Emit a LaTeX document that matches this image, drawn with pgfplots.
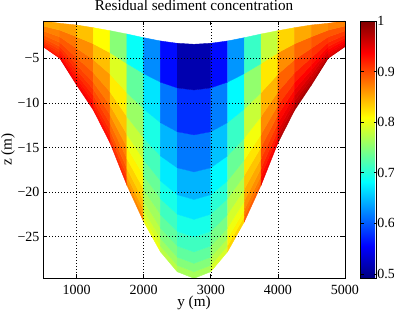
\documentclass[border=0pt]{standalone}
\usepackage{pgfplots}
\pgfplotsset{compat=1.18}
\usepackage{fontspec}
\setmainfont{Liberation Serif}
\begin{document}
\begin{tikzpicture}
\useasboundingbox (0,0) rectangle (394pt,311pt);
\begin{axis}[
  at={(43pt,32.7pt)}, anchor=south west,
  scale only axis, width=302pt, height=257.3pt,
  view={0}{90},
  xmin=500, xmax=5000, ymin=-29.66, ymax=-0.82,
  scaled ticks=false,
  xtick={1000,2000,3000,4000,5000},
  xticklabels={1000,2000,3000,4000,5000},
  ytick={-25,-20,-15,-10,-5},
  yticklabels={−25,−20,−15,−10,−5},
  ztick=\empty,
  grid=major,
  grid style={black, line width=0.5pt, dash pattern=on 0.8pt off 2.2pt},
  tick align=inside, major tick length=4pt,
  tick style={black, line width=0.6pt},
  axis line style={black, line width=0.9pt},
  tick label style={font=\fontsize{14}{16}\selectfont},
  xticklabel style={anchor=base, yshift=-15.7pt},
  title={Residual sediment concentration},
  every axis title/.style={at={(0.5,1)}, anchor=base, yshift=10pt, font=\fontsize{15.2}{18}\selectfont},
  xlabel={y (m)}, ylabel={z (m)},
  every axis x label/.style={at={(axis description cs:0.5,0)}, anchor=base, yshift=-28.2pt, font=\fontsize{15.2}{18}\selectfont},
  every axis y label/.style={at={(axis description cs:-0.1043,0.5)}, rotate=90, anchor=base, font=\fontsize{15.2}{18}\selectfont},
  colormap/jet,
  point meta min=0.4915, point meta max=1,
  colorbar,
  colorbar style={
    at={(parent axis.north east)}, anchor=north west, xshift=7.3pt,
    scale only axis, width=16pt, height=257.3pt,
    ytick={0.5,0.6,0.7,0.8,0.9,1},
    yticklabels={0.5,0.6,0.7,0.8,0.9,1},
    yticklabel pos=right, ytick pos=both,
    tick align=inside, major tick length=3pt,
    tick style={black, line width=0.6pt},
    axis line style={black, line width=0.9pt},
    yticklabel style={font=\fontsize{14}{16}\selectfont, xshift=-3pt},
  },
]
\addplot3[surf, shader=flat corner, mesh/ordering=x varies, point meta=explicit]
table[x=x, y=y, z=c, meta=c] {
x y c
500 -0.82 0.852
750 -1.08 0.856
1000 -1.27 0.840
1250 -1.57 0.810
1500 -1.91 0.750
1750 -2.28 0.685
2000 -2.69 0.625
2250 -3.06 0.560
2500 -3.32 0.515
2750 -3.43 0.515
3000 -3.32 0.560
3250 -3.06 0.630
3500 -2.69 0.710
3750 -2.28 0.780
4000 -1.91 0.830
4250 -1.57 0.852
4500 -1.27 0.865
4750 -1.08 0.872
5000 -0.82 0.872

500 -1.38 0.872
750 -1.84 0.878
1000 -2.58 0.866
1250 -3.37 0.841
1500 -4.37 0.793
1750 -5.58 0.731
2000 -6.71 0.669
2250 -7.67 0.614
2500 -8.31 0.578
2750 -8.55 0.578
3000 -8.31 0.618
3250 -7.67 0.680
3500 -6.71 0.755
3750 -5.58 0.821
4000 -4.37 0.866
4250 -3.37 0.885
4500 -2.58 0.894
4750 -1.84 0.894
5000 -1.38 0.894

500 -1.93 0.883
750 -2.60 0.892
1000 -3.87 0.882
1250 -5.14 0.860
1500 -6.78 0.818
1750 -8.84 0.759
2000 -10.67 0.695
2250 -12.20 0.646
2500 -13.23 0.615
2750 -13.58 0.615
3000 -13.23 0.652
3250 -12.20 0.710
3500 -10.67 0.782
3750 -8.84 0.846
4000 -6.78 0.888
4250 -5.14 0.906
4500 -3.87 0.912
4750 -2.60 0.908
5000 -1.93 0.908

500 -2.39 0.892
750 -3.22 0.903
1000 -4.93 0.895
1250 -6.60 0.875
1500 -8.77 0.838
1750 -11.51 0.781
2000 -13.93 0.716
2250 -15.93 0.672
2500 -17.27 0.645
2750 -17.73 0.645
3000 -17.27 0.680
3250 -15.93 0.734
3500 -13.93 0.804
3750 -11.51 0.866
4000 -8.77 0.906
4250 -6.60 0.922
4500 -4.93 0.927
4750 -3.22 0.919
5000 -2.39 0.919

500 -2.73 0.900
750 -3.68 0.912
1000 -5.73 0.905
1250 -7.69 0.888
1500 -10.26 0.855
1750 -13.51 0.800
2000 -16.37 0.734
2250 -18.72 0.693
2500 -20.29 0.670
2750 -20.82 0.670
3000 -20.29 0.703
3250 -18.72 0.754
3500 -16.37 0.822
3750 -13.51 0.882
4000 -10.26 0.920
4250 -7.69 0.936
4500 -5.73 0.938
4750 -3.68 0.928
5000 -2.73 0.928

500 -2.97 0.907
750 -4.01 0.920
1000 -6.30 0.914
1250 -8.47 0.899
1500 -11.33 0.871
1750 -14.95 0.816
2000 -18.12 0.749
2250 -20.73 0.713
2500 -22.47 0.693
2750 -23.05 0.693
3000 -22.47 0.723
3250 -20.73 0.772
3500 -18.12 0.838
3750 -14.95 0.897
4000 -11.33 0.933
4250 -8.47 0.947
4500 -6.30 0.948
4750 -4.01 0.936
5000 -2.97 0.936

500 -3.19 0.913
750 -4.31 0.926
1000 -6.80 0.923
1250 -9.17 0.909
1500 -12.27 0.884
1750 -16.22 0.831
2000 -19.67 0.763
2250 -22.50 0.730
2500 -24.39 0.713
2750 -25.02 0.713
3000 -24.39 0.742
3250 -22.50 0.788
3500 -19.67 0.852
3750 -16.22 0.910
4000 -12.27 0.945
4250 -9.17 0.958
4500 -6.80 0.957
4750 -4.31 0.942
5000 -3.19 0.942

500 -3.37 0.918
750 -4.56 0.933
1000 -7.23 0.930
1250 -9.76 0.918
1500 -13.08 0.896
1750 -17.31 0.844
2000 -20.99 0.776
2250 -24.01 0.745
2500 -26.03 0.730
2750 -26.70 0.730
3000 -26.03 0.758
3250 -24.01 0.802
3500 -20.99 0.865
3750 -17.31 0.922
4000 -13.08 0.955
4250 -9.76 0.967
4500 -7.23 0.964
4750 -4.56 0.948
5000 -3.37 0.948

500 -3.52 0.924
750 -4.75 0.939
1000 -7.56 0.938
1250 -10.21 0.926
1500 -13.69 0.908
1750 -18.14 0.857
2000 -22.00 0.788
2250 -25.17 0.760
2500 -27.28 0.748
2750 -27.98 0.748
3000 -27.28 0.774
3250 -25.17 0.816
3500 -22.00 0.877
3750 -18.14 0.933
4000 -13.69 0.965
4250 -10.21 0.976
4500 -7.56 0.973
4750 -4.75 0.954
5000 -3.52 0.954

500 -3.62 0.930
750 -4.89 0.945
1000 -7.80 0.945
1250 -10.54 0.935
1500 -14.15 0.920
1750 -18.75 0.870
2000 -22.74 0.800
2250 -26.02 0.775
2500 -28.20 0.765
2750 -28.93 0.765
3000 -28.20 0.790
3250 -26.02 0.830
3500 -22.74 0.890
3750 -18.75 0.945
4000 -14.15 0.975
4250 -10.54 0.985
4500 -7.80 0.980
4750 -4.89 0.960
5000 -3.62 0.960

500 -3.70 0.930
750 -5.00 0.945
1000 -7.99 0.945
1250 -10.80 0.935
1500 -14.50 0.920
1750 -19.22 0.870
2000 -23.32 0.800
2250 -26.68 0.775
2500 -28.92 0.765
2750 -29.66 0.765
3000 -28.92 0.790
3250 -26.68 0.830
3500 -23.32 0.890
3750 -19.22 0.945
4000 -14.50 0.975
4250 -10.80 0.985
4500 -7.99 0.980
4750 -5.00 0.960
5000 -3.70 0.960
};
\end{axis}
\end{tikzpicture}
\end{document}
